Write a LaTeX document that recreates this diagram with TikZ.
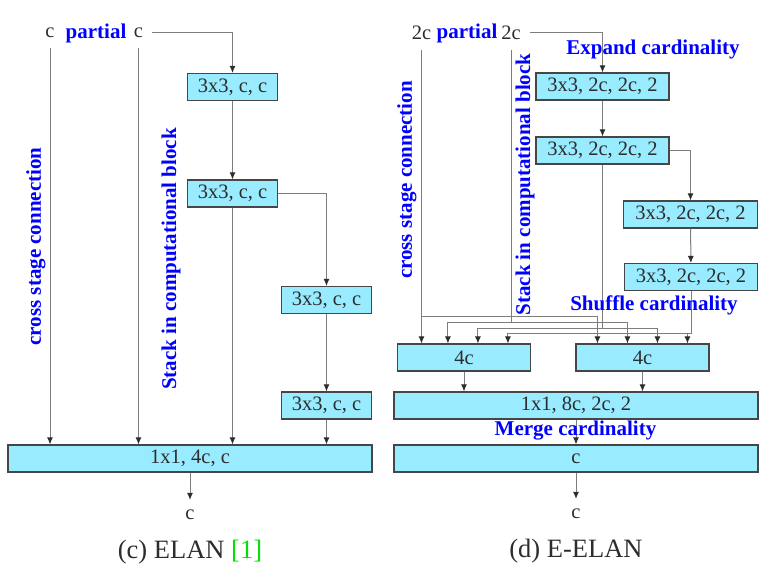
\documentclass[tikz,border=0pt]{standalone}
\usepackage{fontspec}
\setmainfont{Liberation Serif}
\usepackage{xcolor}
\usetikzlibrary{calc,arrows.meta}

\definecolor{boxfill}{RGB}{153,235,255}
\definecolor{boxline}{RGB}{70,70,70}
\definecolor{wire}{RGB}{125,125,125}
\definecolor{txt}{RGB}{45,45,45}
\definecolor{capgreen}{RGB}{0,225,0}

\begin{document}
\begin{tikzpicture}[x=1pt, y=-1pt, >={Latex[length=7pt,width=6pt,color=txt]},
	blk/.style={draw=boxline, line width=1.1pt, fill=boxfill, text=txt, inner sep=0pt, minimum height=27pt, font=\fontsize{20.5}{24}\selectfont},
	dim/.style={text=txt, inner xsep=9pt, inner ysep=10pt, font=\fontsize{20.5}{24}\selectfont},
	tag/.style={text=blue, inner sep=0pt, font=\fontsize{21}{25}\selectfont\bfseries},
	vtag/.style={tag, rotate=90},
	captext/.style={text=txt, font=\fontsize{26.5}{30}\selectfont},
	wire/.style={draw=wire, line width=1pt},
	arr/.style={wire, ->}]
	\useasboundingbox (0,0) rectangle (776,577);

	% (c) ELAN
	\node (cl1) at (50,33) [dim] {c};
	\node (pl) at (96,33) [tag] {partial};
	\node (cl2) at (138.5,33) [dim] {c};
	\node (l1) at (232.5,87) [blk, minimum width=90pt] {3x3, c, c};
	\node (l2) at (232.5,193.5) [blk, minimum width=90pt] {3x3, c, c};
	\node (l3) at (326.5,300) [blk, minimum width=90pt] {3x3, c, c};
	\node (l4) at (326.5,405.5) [blk, minimum width=90pt] {3x3, c, c};
	\node (lm) at (190,458.5) [blk, minimum width=364pt] {1x1, 4c, c};
	\node (lo) at (190,515) [dim] {c};
	\node (lcap) at (190,552) [captext] {(c) ELAN \textcolor{capgreen}{[1]}};

	\draw[arr] (cl1.south) -- (cl1.south |- lm.north);
	\draw[arr] (cl2.south) -- (cl2.south |- lm.north);
	\draw[arr] (cl2.east) -| (l1.north);
	\draw[arr] (l1) -- (l2);
	\draw[arr] (l2.south) -- (l2.south |- lm.north);
	\draw[arr] (l2.east) -| (l3.north);
	\draw[arr] (l3) -- (l4);
	\draw[arr] (l4) -- (l4 |- lm.north);
	\draw[arr] (lm) -- (lo);

	\node (xl) at (36,246.5) [vtag] {cross stage connection};
	\node (sl) at (171,259) [vtag] {Stack in computational block};

	% (d) E-ELAN
	\node (cr1) at (421.5,33) [dim] {2c};
	\node (pr) at (467,33) [tag] {partial};
	\node (cr2) at (511,33) [dim] {2c};
	\node (r1) at (602.5,86.5) [blk, minimum width=133pt] {3x3, 2c, 2c, 2};
	\node (r2) at (602.5,150.5) [blk, minimum width=133pt] {3x3, 2c, 2c, 2};
	\node (r3) at (690.5,214.5) [blk, minimum width=134pt] {3x3, 2c, 2c, 2};
	\node (r4) at (691,277) [blk, minimum width=133pt] {3x3, 2c, 2c, 2};
	\node (ga) at (464,357.5) [blk, minimum width=133pt] {4c};
	\node (gb) at (642.5,357.5) [blk, minimum width=133pt] {4c};
	\node (rm) at (576,405.5) [blk, minimum width=364pt] {1x1, 8c, 2c, 2};
	\node (rc) at (576,458.5) [blk, minimum width=364pt] {c};
	\node (ro) at (576,514) [dim] {c};
	\node (rcap) at (576,551) [captext] {(d) E-ELAN};

	% taps on the two 4c boxes, and the shuffle levels
	\coordinate (ga1) at ($(ga.north west)+(21,0)$);
	\coordinate (ga2) at ($(ga.north west)+(51,0)$);
	\coordinate (ga3) at ($(ga.north west)+(81,0)$);
	\coordinate (ga4) at ($(ga.north west)+(111,0)$);
	\coordinate (gb1) at ($(gb.north west)+(22,0)$);
	\coordinate (gb2) at ($(gb.north west)+(52,0)$);
	\coordinate (gb3) at ($(gb.north west)+(82,0)$);
	\coordinate (gb4) at ($(gb.north west)+(112,0)$);
	\coordinate (s1) at ($(ga.north)+(0,-27)$);
	\coordinate (s2) at ($(ga.north)+(0,-21)$);
	\coordinate (s3) at ($(ga.north)+(0,-15)$);
	\coordinate (s4) at ($(ga.north)+(0,-10)$);

	\draw[arr] (cr2.east) -| (r1.north);
	\draw[arr] (r1) -- (r2);
	\draw[arr] (r2.east) -| (r3.north);
	\draw[arr] (r3) -- (r4);

	\draw[arr] (cr1.south) -- (cr1.south |- ga.north);
	\draw[arr] (cr1.south |- s1) -| (gb1);
	\draw[wire] (cr2.south) -- (cr2.south |- s2);
	\draw[arr] (ga2 |- s2) -- (ga2);
	\draw[arr] (ga2 |- s2) -| (gb2);
	\draw[wire] (r2.south) -- (r2.south |- s3);
	\draw[arr] (ga3 |- s3) -- (ga3);
	\draw[arr] (ga3 |- s3) -| (gb3);
	\draw[wire] (r4.south) |- (ga4 |- s4);
	\draw[arr] (ga4 |- s4) -- (ga4);
	\draw[arr] (gb4 |- s4) -- (gb4);

	\draw[arr] (ga) -- (ga |- rm.north);
	\draw[arr] (gb) -- (gb |- rm.north);
	\draw[arr] (rm) -- (rc);
	\draw[arr] (rc) -- (ro);

	\node (xr) at (407,180) [vtag] {cross stage connection};
	\node (sr) at (525,184.5) [vtag] {Stack in computational block};
	\node (ex) at (653,49) [tag] {Expand cardinality};
	\node (sh) at (654,305) [tag] {Shuffle cardinality};
	\node (mg) at (575.5,431) [tag] {Merge cardinality};
\end{tikzpicture}
\end{document}
